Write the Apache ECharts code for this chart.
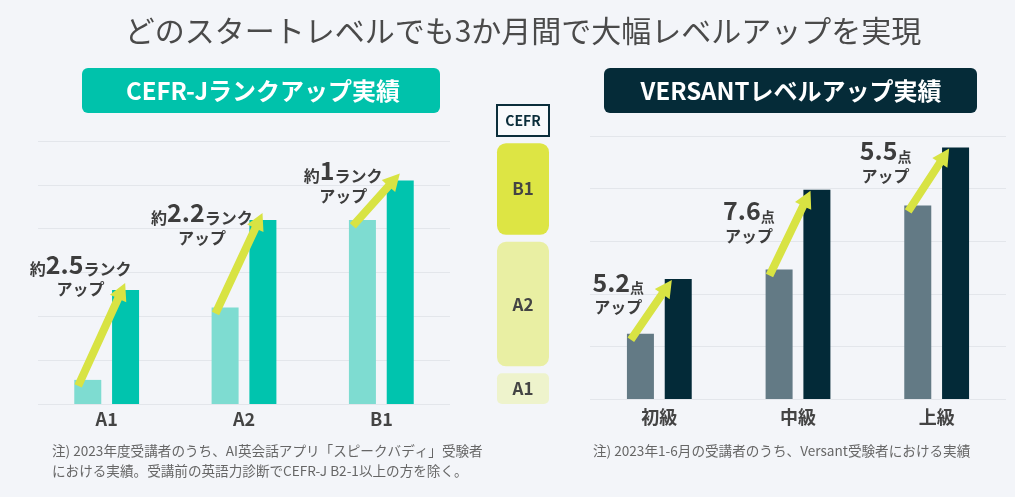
<!DOCTYPE html>
<html>
<head>
<meta charset="utf-8">
<script src="https://cdn.jsdelivr.net/npm/echarts@6/dist/echarts.min.js"></script>
<style>
  html, body { margin: 0; padding: 0; background: #f3f5f9; }
  #chart { width: 1015px; height: 497px; }
</style>
</head>
<body>
<div id="chart"></div>
<script>
// 左: CEFR-J ランク (受講前 / 受講後)
var cefrLevels = ['A1', 'A2', 'B1']
var cefrBefore = [0.55, 2.2, 4.2]
var cefrAfter = [2.6, 4.2, 5.1]
var cefrUp = ['2.5', '2.2', '1']
// 右: VERSANT スコア
var versantLevels = ['初級', '中級', '上級']
var versantBefore = [6.2, 12.3, 18.4]
var versantAfter = [11.4, 19.9, 23.9]
var versantUp = ['5.2', '7.6', '5.5']
// 中央の CEFR 目盛 (左軸の値で範囲)
var bandNames = ['A1', 'A2', 'B1']
var bandFrom = [0, 0.86, 3.86]
var bandTo = [0.7, 3.7, 5.95]

var FONT = '"Noto Sans CJK JP", "Noto Sans", sans-serif'
var TEXT = '#3d3d3d'
var LIME = '#d8e343'
var BAR_W = 27
var PAIR = 19 // 棒の中心から中心までの半分

// ラベル位置の微調整 (px)
var cefrLabelOffset = [[-45, 7], [-61, 26], [-57, 23]]
var versantLabelOffset = [[-60, 36], [-68, 54], [-70, 36]]

var chart = echarts.init(document.getElementById('chart'))

function labelItems(values, offsets) {
    return values.map(function (v, i) {
        return { value: v, label: { offset: offsets[i] } }
    })
}

var richStyle = {
    b: { fontFamily: FONT, fontSize: 25, fontWeight: 'bold', color: TEXT, lineHeight: 26 },
    s: { fontFamily: FONT, fontSize: 16, fontWeight: 'bold', color: TEXT, lineHeight: 20, verticalAlign: 'bottom' },
    p: { fontFamily: FONT, fontSize: 14, fontWeight: 'bold', color: TEXT, lineHeight: 20, verticalAlign: 'bottom' }
}

function catAxis(idx, data, margin) {
    return {
        type: 'category', gridIndex: idx, data: data,
        axisLine: { show: false }, axisTick: { show: false },
        axisLabel: { margin: margin, fontFamily: FONT, fontSize: 18, fontWeight: 'bold', color: '#444' }
    }
}
function valAxis(idx, max, interval) {
    return {
        type: 'value', gridIndex: idx, min: 0, max: max, interval: interval,
        axisLabel: { show: false }, axisLine: { show: false }, axisTick: { show: false },
        splitLine: { lineStyle: { color: '#e3e6eb', width: 1 } }
    }
}

var option = {
    backgroundColor: '#f3f5f9',
    animation: false,
    grid: [
        { left: 38, top: 141, width: 412, height: 263 },
        { left: 590, top: 136, width: 416, height: 263 }
    ],
    xAxis: [catAxis(0, cefrLevels, 6), catAxis(1, versantLevels, 9)],
    yAxis: [valAxis(0, 6, 1), valAxis(1, 25, 5)],
    series: [
        {
            type: 'bar', xAxisIndex: 0, yAxisIndex: 0, data: cefrBefore,
            barWidth: BAR_W, barGap: '40%', itemStyle: { color: '#7edcd1' }
        },
        {
            type: 'bar', xAxisIndex: 0, yAxisIndex: 0, data: labelItems(cefrAfter, cefrLabelOffset),
            barWidth: BAR_W, itemStyle: { color: '#00c4ae' },
            label: {
                show: true, position: 'top', distance: 0, rich: richStyle,
                formatter: function (p) {
                    return '{s|約}{b|' + cefrUp[p.dataIndex] + '}{s|ランク}\n{s|アップ}'
                }
            }
        },
        {
            type: 'bar', xAxisIndex: 1, yAxisIndex: 1, data: versantBefore,
            barWidth: BAR_W, barGap: '40%', itemStyle: { color: '#637a85' }
        },
        {
            type: 'bar', xAxisIndex: 1, yAxisIndex: 1, data: labelItems(versantAfter, versantLabelOffset),
            barWidth: BAR_W, itemStyle: { color: '#032a38' },
            label: {
                show: true, position: 'top', distance: 0, rich: richStyle,
                formatter: function (p) {
                    return '{b|' + versantUp[p.dataIndex] + '}{p|点}\n{s|アップ}'
                }
            }
        }
    ]
}
chart.setOption(option)

// 矢印 (棒の位置は軸から求める)
function arrowPoints(s, t) {
    var dx = t[0] - s[0], dy = t[1] - s[1]
    var len = Math.sqrt(dx * dx + dy * dy)
    var ux = dx / len, uy = dy / len, nx = -uy, ny = ux
    var hl = 17, sw = 4, hw = 9
    var bx = t[0] - ux * hl, by = t[1] - uy * hl
    return [
        [s[0] + nx * sw, s[1] + ny * sw], [bx + nx * sw, by + ny * sw], [bx + nx * hw, by + ny * hw],
        [t[0], t[1]],
        [bx - nx * hw, by - ny * hw], [bx - nx * sw, by - ny * sw], [s[0] - nx * sw, s[1] - ny * sw]
    ]
}

function arrows(gridIndex, before, after, tipDx, tipDy) {
    var out = []
    before.forEach(function (v, i) {
        var lo = chart.convertToPixel({ gridIndex: gridIndex }, [i, v])
        var hi = chart.convertToPixel({ gridIndex: gridIndex }, [i, after[i]])
        var lightLeft = lo[0] - PAIR - BAR_W / 2
        var darkLeft = hi[0] + PAIR - BAR_W / 2
        var s = [lightLeft + 4, lo[1] + 6]
        var t = [darkLeft + tipDx, hi[1] + tipDy]
        out.push({
            type: 'polygon', z: 100, silent: true,
            shape: { points: arrowPoints(s, t) },
            style: { fill: LIME }
        })
    })
    return out
}

var graphics = []
graphics.push({
    type: 'text', x: 523, y: 31, z: 10,
    style: {
        text: 'どのスタートレベルでも3か月間で大幅レベルアップを実現',
        font: '400 30px ' + FONT, fill: '#4a4a4a', textAlign: 'center', textVerticalAlign: 'middle'
    }
})
graphics.push({
    type: 'rect', shape: { x: 82, y: 68, width: 358, height: 45, r: 6 }, style: { fill: '#00c2ab' }
})
graphics.push({
    type: 'text', x: 263, y: 91, z: 10,
    style: { text: 'CEFR-Jランクアップ実績', font: 'bold 24px ' + FONT, fill: '#fff', textAlign: 'center', textVerticalAlign: 'middle' }
})
graphics.push({
    type: 'rect', shape: { x: 604, y: 68, width: 373, height: 45, r: 6 }, style: { fill: '#052b38' }
})
graphics.push({
    type: 'text', x: 791, y: 91, z: 10,
    style: { text: 'VERSANTレベルアップ実績', font: 'bold 24px ' + FONT, fill: '#fff', textAlign: 'center', textVerticalAlign: 'middle' }
})

// CEFR 目盛
graphics.push({
    type: 'rect', shape: { x: 497, y: 105, width: 52, height: 31 },
    style: { fill: '#f8fafc', stroke: '#0b2e3b', lineWidth: 2 }
})
graphics.push({
    type: 'text', x: 523, y: 121, z: 10,
    style: { text: 'CEFR', font: 'bold 14px ' + FONT, fill: '#0b2e3b', textAlign: 'center', textVerticalAlign: 'middle' }
})
var bandColors = ['#eef3cc', '#e9efa3', '#dde544']
bandNames.forEach(function (name, i) {
    var y0 = chart.convertToPixel({ yAxisIndex: 0 }, bandFrom[i])
    var y1 = chart.convertToPixel({ yAxisIndex: 0 }, bandTo[i])
    graphics.push({
        type: 'rect', shape: { x: 497, y: y1, width: 52, height: y0 - y1, r: i === 0 ? 5 : 9 },
        style: { fill: bandColors[i] }
    })
    graphics.push({
        type: 'text', x: 523, y: (y0 + y1) / 2, z: 10,
        style: { text: name, font: 'bold 17px ' + FONT, fill: '#444', textAlign: 'center', textVerticalAlign: 'middle' }
    })
})

// 注記
graphics.push({
    type: 'text', x: 52, y: 441,
    style: {
        text: '注) 2023年度受講者のうち、AI英会話アプリ「スピークバディ」受験者\nにおける実績。受講前の英語力診断でCEFR-J B2-1以上の方を除く。',
        font: '13.6px ' + FONT, fill: '#666', lineHeight: 20
    }
})
graphics.push({
    type: 'text', x: 593, y: 441,
    style: { text: '注) 2023年1-6月の受講者のうち、Versant受験者における実績', font: '13.6px ' + FONT, fill: '#666', lineHeight: 20 }
})

graphics = graphics.concat(arrows(0, cefrBefore, cefrAfter, 13, -7))
graphics = graphics.concat(arrows(1, versantBefore, versantAfter, 7, 1))

chart.setOption({ graphic: graphics })
</script>
</body>
</html>
